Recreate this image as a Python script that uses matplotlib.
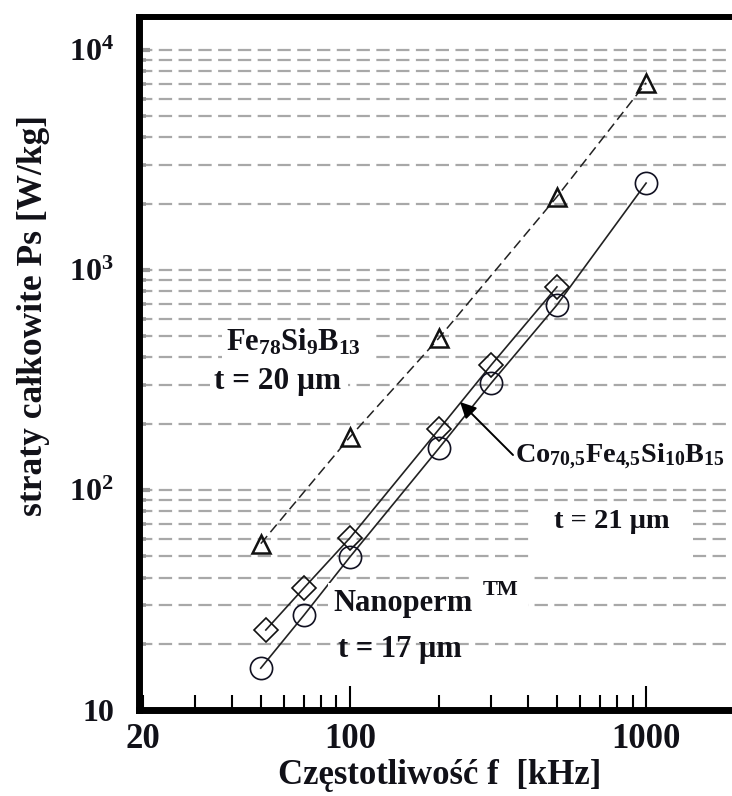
import numpy as np
import matplotlib
matplotlib.use('Agg')
import matplotlib.pyplot as plt
from matplotlib.patches import Rectangle
from matplotlib.ticker import NullFormatter, FixedLocator

# ---------------- data ----------------
f_fe = [50, 100, 200, 500, 1000]
p_fe = [57, 174, 491, 2150, 7080]

f_co = [52, 70, 100, 200, 300, 500]
p_co = [23.1, 35.9, 60.5, 189, 370, 837]

f_nano = [50, 70, 100, 200, 300, 500, 1000]
p_nano = [15.5, 27, 49.6, 155, 306, 693, 2480]

x_major = [20, 100, 1000]
x_major_labels = ['20', '100', '1000']
y_major = [10, 100, 1000, 10000]
y_major_labels = ['10', r'$10^{2}$', r'$10^{3}$', r'$10^{4}$']

xlabel = 'Częstotliwość f  [kHz]'
ylabel = 'straty całkowite Ps [W/kg]'

# ---------------- style ----------------
plt.rcParams['font.family'] = ['Liberation Serif', 'DejaVu Serif']
plt.rcParams['font.weight'] = 'bold'
plt.rcParams['mathtext.fontset'] = 'custom'
plt.rcParams['mathtext.rm'] = 'Liberation Serif:bold'
plt.rcParams['mathtext.bf'] = 'Liberation Serif:bold'
plt.rcParams['mathtext.it'] = 'Liberation Serif:bold'
plt.rcParams['mathtext.sf'] = 'Liberation Serif'
plt.rcParams['mathtext.default'] = 'rm'

TXT = '#111118'
W, H = 732, 796
fig = plt.figure(figsize=(W / 100, H / 100), dpi=100)
L, R, B, T = 139, 732, 710, 17
ax = fig.add_axes([L / W, 1 - B / H, (R - L) / W, (B - T) / H])
ax.set_xscale('log')
ax.set_yscale('log')
ax.set_xlim(19.4, 1950)
ax.set_ylim(10, 1.41e4)


def fp(x, y):
    return (x / W, 1 - y / H)


# grid
ax.set_axisbelow(True)
ax.yaxis.grid(True, which='both', color='#a8a8a8', linewidth=1.6,
              linestyle=(0, (6.0, 2.9)))
ax.xaxis.grid(False)

# ticks
ax.set_xticks(x_major, labels=x_major_labels)
ax.xaxis.set_minor_locator(FixedLocator([30, 40, 50, 60, 70, 80, 90,
                                         200, 300, 400, 500, 600, 700, 800, 900]))
ax.xaxis.set_minor_formatter(NullFormatter())
ax.set_yticks(y_major, labels=y_major_labels)
ax.yaxis.set_minor_formatter(NullFormatter())

ax.tick_params(axis='x', which='major', direction='in', length=17, width=1.5,
               color='black', labelsize=25, labelcolor=TXT, pad=9, top=False)
ax.tick_params(axis='x', which='minor', direction='in', length=10.5, width=1.5,
               color='black', top=False)
ax.xaxis.get_major_ticks()[0].tick1line.set_markersize(10.5)
ax.tick_params(axis='y', which='major', direction='in', length=8, width=3,
               color='#999999', labelsize=23, labelcolor=TXT, pad=18, right=False)
ax.tick_params(axis='y', which='minor', direction='in', length=5, width=2.6,
               color='#999999', right=False)

for s in ['left', 'bottom']:
    ax.spines[s].set_linewidth(5)
ax.spines['top'].set_linewidth(4.3)
ax.spines['right'].set_visible(False)

# data
ax.plot(f_fe, p_fe, color='#222222', lw=1.1, ls=(0, (6.5, 3.3)),
        marker='^', ms=13, mfc='none', mec='#111111', mew=1.8, zorder=3)
ax.plot(f_co, p_co, color='#222222', lw=1.2, ls='-',
        marker='D', ms=12.5, mfc='none', mec='#111111', mew=1.2, zorder=3)
ax.plot(f_nano, p_nano, color='#222222', lw=1.2, ls='-',
        marker='o', ms=16, mfc='none', mec='#111122', mew=1.2, zorder=3)

# white boxes covering grid behind texts
boxes = [(222, 324, 375, 368), (210, 370, 348, 396),
         (533, 505, 693, 568), (328, 583, 528, 628), (473, 572, 533, 600)]
for x0, y0, x1, y1 in boxes:
    fig.add_artist(Rectangle((x0 / W, 1 - y1 / H), (x1 - x0) / W, (y1 - y0) / H,
                             transform=fig.transFigure, facecolor='white',
                             edgecolor='none', zorder=1))

# texts
fig.text(*fp(293, 342), r'Fe$_{78}$Si$_{9}$B$_{13}$', ha='center', va='center',
         fontsize=22, color=TXT, zorder=5)
fig.text(*fp(278, 382), 't = 20 μm', ha='center', va='center',
         fontsize=22.5, color=TXT, zorder=5)
fig.text(*fp(515, 457), r'$\mathsf{Co_{70{,}5}Fe_{4{,}5}Si_{10}B_{15}}$',
         ha='left', va='center', fontsize=20.3, color=TXT, zorder=5)
fig.text(*fp(612, 522), 't = 21 μm', ha='center', va='center',
         fontsize=20.5, color=TXT, zorder=5)
fig.text(*fp(333, 604), 'Nanoperm', ha='left', va='center',
         fontsize=22, color=TXT, zorder=5)
fig.text(*fp(483, 590), 'TM', ha='left', va='center',
         fontsize=16, color=TXT, zorder=5)
fig.text(*fp(400, 650), 't = 17 μm', ha='center', va='center',
         fontsize=22, color=TXT, zorder=5)

ax.annotate('', xy=fp(460, 402), xytext=fp(513, 455),
            xycoords='figure fraction', textcoords='figure fraction',
            arrowprops=dict(arrowstyle='-|>', color='black', lw=1.4,
                            mutation_scale=24, shrinkA=0, shrinkB=0),
            zorder=6)

# axis labels
fig.text(*fp(440, 775), xlabel, ha='center', va='center', fontsize=25, color=TXT)
fig.text(*fp(34, 315), ylabel, ha='center', va='center', rotation=90,
         fontsize=25.5, color=TXT)

fig.savefig('out.png', dpi=100)
